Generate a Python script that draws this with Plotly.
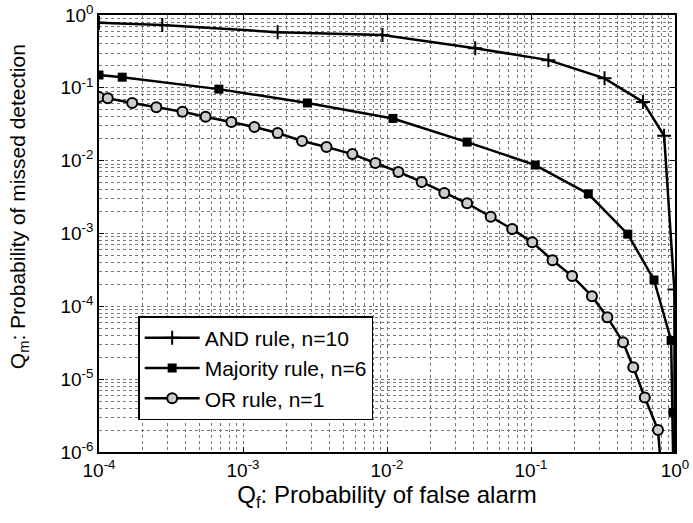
import plotly.graph_objects as go

# Probability of false alarm (Q_f) and missed detection (Q_m) for each fusion rule
and_qf = [1e-4, 2.75e-4, 1.74e-3, 9.3e-3, 0.041, 0.132, 0.324, 0.60, 0.84, 0.99, 0.995]
and_qm = [0.78, 0.73, 0.58, 0.53, 0.35, 0.24, 0.135, 0.064, 0.022, 1.7e-4, 5e-7]

maj_qf = [1e-4, 1.45e-4, 6.8e-4, 2.8e-3, 0.011, 0.036, 0.107, 0.25, 0.47, 0.715, 0.94, 0.968, 0.975]
maj_qm = [0.15, 0.14, 0.096, 0.062, 0.038, 0.018, 0.0087, 0.0035, 9.8e-4, 2.3e-4, 3.4e-5, 3.5e-6, 5e-7]

or_qf = [1e-4, 1.15e-4, 1.7e-4, 2.5e-4, 3.8e-4, 5.5e-4, 8.3e-4, 1.2e-3, 1.74e-3, 2.57e-3,
         3.8e-3, 5.75e-3, 8.3e-3, 0.012, 0.0174, 0.025, 0.036, 0.0525, 0.074, 0.102,
         0.141, 0.193, 0.265, 0.339, 0.436, 0.513, 0.617, 0.762, 0.80]
or_qm = [0.075, 0.072, 0.062, 0.054, 0.047, 0.040, 0.034, 0.029, 0.024, 0.0186,
         0.0154, 0.0123, 0.0093, 0.0070, 0.0051, 0.0036, 0.0026, 0.0017, 0.00115, 7.6e-4,
         4.3e-4, 2.6e-4, 1.38e-4, 7.1e-5, 3.2e-5, 1.46e-5, 5.6e-6, 2.0e-6, 6e-7]

labels = ["AND rule, n=10", "Majority rule, n=6", "OR rule, n=1"]
x_title = "Q<sub>f</sub>: Probability of false alarm"
y_title = "Q<sub>m</sub>: Probability of missed detection"

x_exps = [-4, -3, -2, -1, 0]
y_exps = [-6, -5, -4, -3, -2, -1, 0]
x_tickvals = [10.0 ** e for e in x_exps]
y_tickvals = [10.0 ** e for e in y_exps]
x_ticktext = ["10<sup>%d</sup>" % e for e in x_exps]
y_ticktext = ["10<sup>%d</sup>" % e for e in y_exps]
minor_x = [m * 10.0 ** e for e in x_exps[:-1] for m in range(2, 10)]
minor_y = [m * 10.0 ** e for e in y_exps[:-1] for m in range(2, 10)]

FONT = "Liberation Sans, Arial, Helvetica, sans-serif"

fig = go.Figure()
fig.add_trace(go.Scatter(
    x=and_qf, y=and_qm, name=labels[0], mode="lines+markers",
    line=dict(color="black", width=2.5),
    marker=dict(symbol="cross-thin", size=10, color="black",
                line=dict(color="black", width=2)),
))
fig.add_trace(go.Scatter(
    x=maj_qf, y=maj_qm, name=labels[1], mode="lines+markers",
    line=dict(color="black", width=2.5),
    marker=dict(symbol="square", size=9, color="black"),
))
fig.add_trace(go.Scatter(
    x=or_qf, y=or_qm, name=labels[2], mode="lines+markers",
    line=dict(color="black", width=2.5),
    marker=dict(symbol="circle", size=10, color="#cccccc",
                line=dict(color="black", width=2)),
))

grid = dict(gridcolor="#777777", griddash="dot", gridwidth=1)
axis_common = dict(
    type="log", showline=True, mirror="ticks", automargin=False,
    linecolor="black", linewidth=1.5, ticks="inside", ticklen=5, tickcolor="black",
    tickfont=dict(family=FONT, size=19, color="black"),
    zeroline=False, showgrid=True, **grid,
)

fig.update_xaxes(
    range=[-4, 0], tickvals=x_tickvals, ticktext=x_ticktext,
    title=dict(text=x_title, font=dict(family=FONT, size=24, color="black"),
               standoff=6),
    minor=dict(tickvals=minor_x, showgrid=True, ticks="", **grid),
    **axis_common,
)
fig.update_yaxes(
    range=[-6, 0], tickvals=y_tickvals, ticktext=y_ticktext,
    minor=dict(tickvals=minor_y, showgrid=True, ticks="", **grid),
    **axis_common,
)

# y-axis title placed as a rotated annotation left of the tick labels
fig.add_annotation(
    text=y_title, textangle=-90, showarrow=False,
    xref="paper", yref="paper", x=-0.140, y=0.561,
    xanchor="center", yanchor="middle",
    font=dict(family=FONT, size=21, color="black"),
)

fig.update_layout(
    width=693, height=523,
    margin=dict(l=99, r=18, t=15, b=71),
    paper_bgcolor="white", plot_bgcolor="white",
    showlegend=True,
    legend=dict(
        x=0.068, y=0.311, xanchor="left", yanchor="top",
        bgcolor="white", bordercolor="black", borderwidth=1.5,
        font=dict(family=FONT, size=21, color="black"),
        itemwidth=55, tracegroupgap=0,
    ),
)

fig.write_html("out.html")
